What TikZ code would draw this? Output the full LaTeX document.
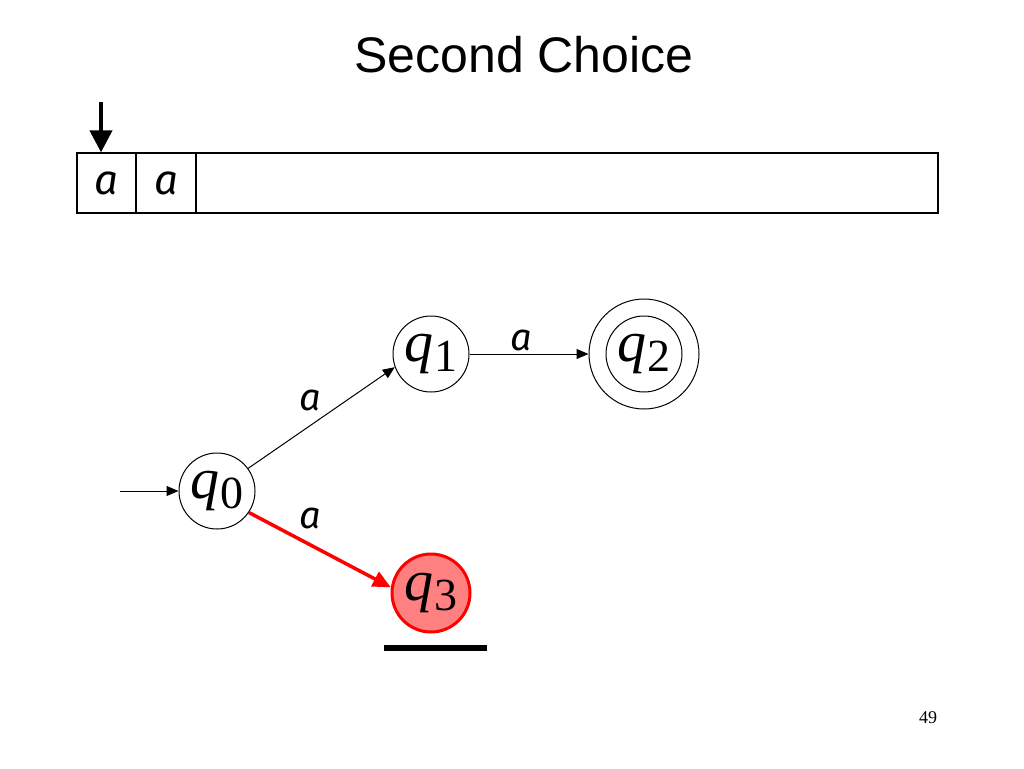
\documentclass[tikz,border=0pt]{standalone}
\usepackage{fontspec}
\setmainfont{Liberation Serif}
\newfontfamily\titlefont{Liberation Sans}
\newfontfamily\comicfont{Fira Sans}
\usetikzlibrary{arrows.meta}
\newcommand{\qsub}[1]{\textit{q}\kern0.5pt\raisebox{-10pt}{\fontsize{46}{46}\selectfont #1}}
\definecolor{qred}{RGB}{255,128,128}
\begin{document}
\begin{tikzpicture}[x=1pt,y=-1pt,
  state/.style={circle,draw,line width=1pt,minimum size=76pt,inner sep=0pt,font=\fontsize{58}{58}\selectfont},
  lbl/.style={font=\comicfont\itshape\fontsize{38}{38}\selectfont},
  cell/.style={draw,line width=1.2pt,rectangle,minimum height=60pt,inner sep=0pt,font=\comicfont\itshape\fontsize{42}{42}\selectfont},
  edge/.style={line width=1pt,-{Triangle[length=12pt,width=10pt]}}]
\useasboundingbox (0,0) rectangle (1024,768);
\node (title) at (524,55) {\titlefont\fontsize{50}{50}\selectfont Second Choice};
% tape
\node[cell,minimum width=861pt] (tape) at (507.5,183) {};
\node[cell,minimum width=59pt] (c1) at (106.5,183) {a};
\node[cell,minimum width=60pt] (c2) at (166,183) {a};
\coordinate (head) at (101,102);
\draw[line width=4pt,-{Triangle[length=22pt,width=22pt]}] (head) -- (head |- c1.north);
% states
\node[state] (q0) at (217,491) {\qsub{0}};
\node[state] (q1) at (431,354) {\qsub{1}};
\node[state] (q2) at (644,354) {\qsub{2}};
\node[circle,draw,line width=1pt,minimum size=110pt,inner sep=0pt] (q2o) at (644,354) {};
\node[state,fill=qred,draw=red,line width=3pt,minimum size=78pt] (q3) at (431,593) {\qsub{3}};
% edges
\coordinate (init) at (120,491);
\draw[edge] (init) -- (q0.west);
\draw[edge] (q0.36) -- (q1.200);
\draw[edge] (q1.east) -- (q2o.west);
\draw[red,line width=3.5pt,-{Triangle[length=18pt,width=16pt]}] (q0.-34) -- (q3.172);
\node[lbl] (l01) at (310,400) {a};
\node[lbl] (l03) at (310,518) {a};
\node[lbl] (l12) at (521,340) {a};
% underline
\coordinate (u1) at (384,648);
\coordinate (u2) at (487,648);
\draw[line width=6pt] (u1) -- (u2);
\node (pg) at (928,718) {\fontsize{18}{18}\selectfont 49};
\end{tikzpicture}
\end{document}
